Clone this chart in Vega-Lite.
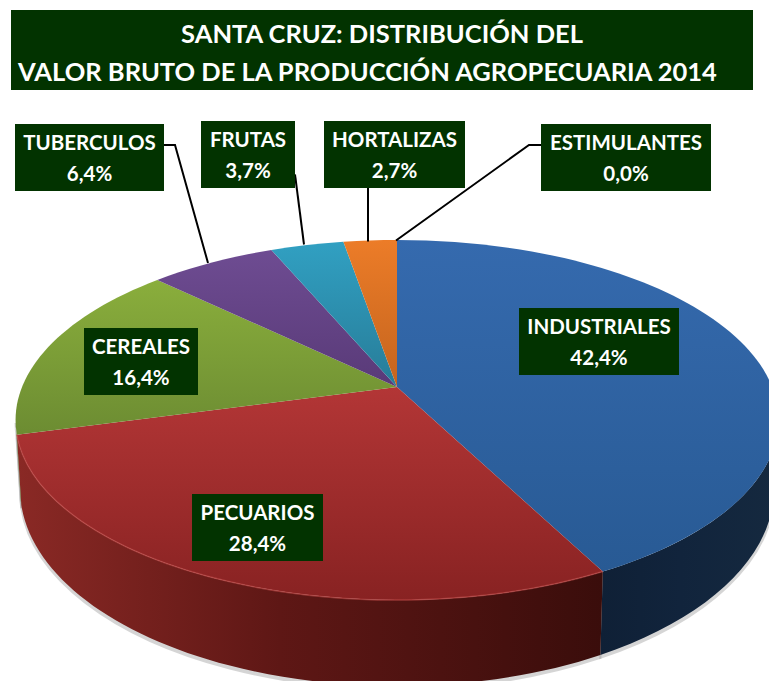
{
"$schema":"https://vega.github.io/schema/vega-lite/v6.json",
"width":769,"height":681,"padding":0,"autosize":{"type":"none"},"background":"white",
"config":{"view":{"stroke":null},"axis":{"domain":false}},
"data":{"values":[
{"category":"INDUSTRIALES","value":42.4},
{"category":"PECUARIOS","value":28.4},
{"category":"CEREALES","value":16.4},
{"category":"TUBERCULOS","value":6.4},
{"category":"FRUTAS","value":3.7},
{"category":"HORTALIZAS","value":2.7},
{"category":"ESTIMULANTES","value":0.0}
]},
"transform":[
{"window":[{"op":"sum","field":"value","as":"cum"}],"frame":[null,0]},
{"calculate":"2*PI*datum.cum/100","as":"t2"},
{"calculate":"datum.t2-2*PI*datum.value/100","as":"t1"},
{"calculate":"clamp(datum.t1,1.7548,4.5284)","as":"w1"},
{"calculate":"clamp(datum.t2,1.7548,4.5284)","as":"w2"},
{"calculate":"round(100*375*sin(datum.t1)/(1+0.183*cos(datum.t1)))/100","as":"x1"},
{"calculate":"round(-100*174*cos(datum.t1)/(1+0.183*cos(datum.t1)))/100","as":"y1"},
{"calculate":"round(100*375*sin(datum.t2)/(1+0.183*cos(datum.t2)))/100","as":"x2"},
{"calculate":"round(-100*174*cos(datum.t2)/(1+0.183*cos(datum.t2)))/100","as":"y2"},
{"calculate":"'M0,0L'+datum.x1+','+datum.y1+'A381.4,180,0,0,1,'+datum.x2+','+datum.y2+'Z'","as":"facePath"},
{"calculate":"'M'+round(100*375*sin(datum.w1)/(1+0.183*cos(datum.w1)))/100+','+round(-100*174*cos(datum.w1)/(1+0.183*cos(datum.w1)))/100+'A381.4,180,0,0,1,'+round(100*375*sin(datum.w2)/(1+0.183*cos(datum.w2)))/100+','+round(-100*174*cos(datum.w2)/(1+0.183*cos(datum.w2)))/100","as":"rimPath"},
{"calculate":"datum.rimPath+'L'+round(100*370.6*sin(datum.w2)/(1+0.183*cos(datum.w2)))/100+','+(66+round(-100*190.4*cos(datum.w2)/(1+0.183*cos(datum.w2)))/100)+'A377,197,0,0,0,'+round(100*370.6*sin(datum.w1)/(1+0.183*cos(datum.w1)))/100+','+(66+round(-100*190.4*cos(datum.w1)/(1+0.183*cos(datum.w1)))/100)+'Z'","as":"wallPath"},
{"calculate":"{gradient:'linear',x1:0,y1:0,x2:0,y2:1,stops:[{offset:0,color:{'INDUSTRIALES':'#356aae','PECUARIOS':'#b33636','CEREALES':'#8aae3c','TUBERCULOS':'#6e4c92','FRUTAS':'#31a0c2','HORTALIZAS':'#ec7c28','ESTIMULANTES':'#999999'}[datum.category]},{offset:1,color:{'INDUSTRIALES':'#285a94','PECUARIOS':'#882222','CEREALES':'#6c8c32','TUBERCULOS':'#593a78','FRUTAS':'#277c98','HORTALIZAS':'#c4641e','ESTIMULANTES':'#999999'}[datum.category]}]}","as":"faceFill"},
{"calculate":"{gradient:'linear',x1:0,y1:0,x2:1,y2:0,stops:[{offset:0,color:{'INDUSTRIALES':'#0f2036','PECUARIOS':'#8a2925','CEREALES':'#5f7a28'}[datum.category]||'#333333'},{offset:0.45,color:{'INDUSTRIALES':'#11243c','PECUARIOS':'#5e1715','CEREALES':'#5f7a28'}[datum.category]||'#333333'},{offset:1,color:{'INDUSTRIALES':'#15293f','PECUARIOS':'#3a0d0b','CEREALES':'#5f7a28'}[datum.category]||'#333333'}]}","as":"wallFill"},
{"calculate":"{'INDUSTRIALES':599,'PECUARIOS':257.5,'CEREALES':141,'TUBERCULOS':89.5,'FRUTAS':248,'HORTALIZAS':394.5,'ESTIMULANTES':626}[datum.category]","as":"lx"},
{"calculate":"{'INDUSTRIALES':341.5,'PECUARIOS':527.5,'CEREALES':361.5,'TUBERCULOS':157.5,'FRUTAS':154.5,'HORTALIZAS':154.5,'ESTIMULANTES':157.5}[datum.category]","as":"ly"},
{"calculate":"{'INDUSTRIALES':160,'PECUARIOS':131,'CEREALES':114,'TUBERCULOS':149,'FRUTAS':94,'HORTALIZAS':141,'ESTIMULANTES':170}[datum.category]","as":"bw"},
{"calculate":"'M'+(-datum.bw/2)+',-33.5H'+(datum.bw/2)+'V33.5H'+(-datum.bw/2)+'Z'","as":"boxPath"},
{"calculate":"{'TUBERCULOS':'M74,-12.5L85.5,-12.5L118.5,105.5','FRUTAS':'M47,20L56,90','HORTALIZAS':'M-26.5,33L-26.5,87','ESTIMULANTES':'M-85,-12.5L-97,-12.5L-230,83'}[datum.category]||'M0,0'","as":"leaderPath"},
{"calculate":"replace(format(datum.value,'.1f'),'.',',')+'%'","as":"pct"}
],
"layer":[
{"transform":[{"filter":"datum.w2>datum.w1+0.001"}],
 "mark":{"type":"point","filled":true,"opacity":0.35,"clip":true},
 "encoding":{"x":{"datum":397,"type":"quantitative","scale":{"domain":[0,769],"range":[0,769],"nice":false,"zero":false},"axis":null},
  "y":{"datum":390,"type":"quantitative","scale":{"domain":[0,681],"range":[0,681],"nice":false,"zero":false},"axis":null},
  "size":{"value":4},"shape":{"field":"wallPath","type":"nominal","scale":null},"fill":{"value":"#888888"},"stroke":{"value":"#888888"},"strokeWidth":{"value":2}}},
{"transform":[{"filter":"datum.w2>datum.w1+0.001"}],
 "mark":{"type":"point","filled":true,"opacity":1,"clip":true},
 "encoding":{"x":{"datum":397,"type":"quantitative","axis":null},"y":{"datum":387,"type":"quantitative","axis":null},
  "size":{"value":4},"shape":{"field":"wallPath","type":"nominal","scale":null},"fill":{"field":"wallFill","type":"nominal","scale":null},"stroke":{"value":null}}},
{"transform":[{"filter":"datum.value>0"}],
 "mark":{"type":"point","filled":true,"opacity":1,"clip":true},
 "encoding":{"x":{"datum":397,"type":"quantitative","axis":null},"y":{"datum":387,"type":"quantitative","axis":null},
  "size":{"value":4},"shape":{"field":"facePath","type":"nominal","scale":null},"fill":{"field":"faceFill","type":"nominal","scale":null},"stroke":{"value":null}}},
{"transform":[{"filter":"datum.category==='PECUARIOS'"}],
 "mark":{"type":"point","filled":false,"opacity":0.6,"clip":true,"strokeWidth":1.5},
 "encoding":{"x":{"datum":397,"type":"quantitative","axis":null},"y":{"datum":387,"type":"quantitative","axis":null},
  "size":{"value":4},"shape":{"field":"rimPath","type":"nominal","scale":null},"stroke":{"value":"#c04a48"}}},
{"transform":[{"filter":"indexof(['TUBERCULOS','FRUTAS','HORTALIZAS','ESTIMULANTES'],datum.category)>=0"}],
 "mark":{"type":"point","filled":false,"opacity":1,"strokeWidth":2},
 "encoding":{"x":{"field":"lx","type":"quantitative","axis":null},"y":{"field":"ly","type":"quantitative","axis":null},
  "size":{"value":4},"shape":{"field":"leaderPath","type":"nominal","scale":null},"stroke":{"value":"#000000"}}},
{"mark":{"type":"point","filled":true,"opacity":1},
 "encoding":{"x":{"field":"lx","type":"quantitative","axis":null},"y":{"field":"ly","type":"quantitative","axis":null},
  "size":{"value":4},"shape":{"field":"boxPath","type":"nominal","scale":null},"fill":{"value":"#023300"},"stroke":{"value":null}}},
{"mark":{"type":"text","font":"Lato","fontWeight":"bold","fontSize":20.5,"color":"white","dy":-13.5,"baseline":"middle","align":"center"},
 "encoding":{"x":{"field":"lx","type":"quantitative","axis":null},"y":{"field":"ly","type":"quantitative","axis":null},"text":{"field":"category"}}},
{"mark":{"type":"text","font":"Lato","fontWeight":"bold","fontSize":20.5,"color":"white","dy":17,"baseline":"middle","align":"center"},
 "encoding":{"x":{"field":"lx","type":"quantitative","axis":null},"y":{"field":"ly","type":"quantitative","axis":null},"text":{"field":"pct"}}},
{"data":{"values":[{"linea":"SANTA CRUZ: DISTRIBUCIÓN DEL","cx":382,"cy":35},{"linea":"VALOR BRUTO DE LA PRODUCCIÓN AGROPECUARIA 2014","cx":367.5,"cy":72.5}]},
 "transform":[{"filter":"datum.cx===382"}],
 "mark":{"type":"point","filled":true,"opacity":1},
 "encoding":{"x":{"datum":382,"type":"quantitative","axis":null},"y":{"datum":50,"type":"quantitative","axis":null},
  "size":{"value":4},"shape":{"value":"M-371,-40H371V40H-371Z"},"fill":{"value":"#023300"},"stroke":{"value":null}}},
{"data":{"values":[{"linea":"SANTA CRUZ: DISTRIBUCIÓN DEL","cx":382,"cy":35},{"linea":"VALOR BRUTO DE LA PRODUCCIÓN AGROPECUARIA 2014","cx":367.5,"cy":72.5}]},
 "mark":{"type":"text","font":"Lato","fontWeight":"bold","fontSize":25.5,"color":"white","baseline":"middle","align":"center"},
 "encoding":{"x":{"field":"cx","type":"quantitative","axis":null},"y":{"field":"cy","type":"quantitative","axis":null},"text":{"field":"linea"}}}
]
}
